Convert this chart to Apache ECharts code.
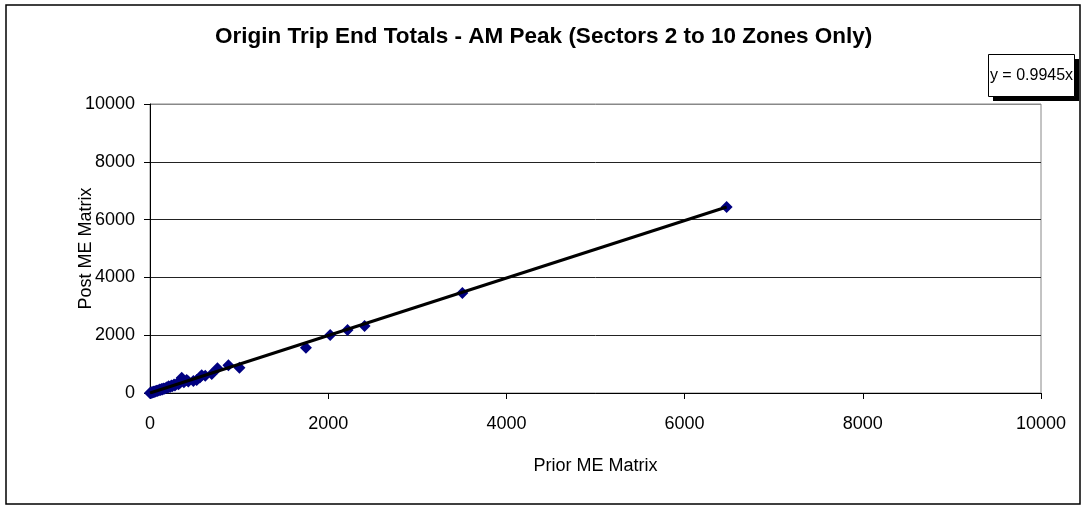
<!DOCTYPE html>
<html>
<head>
<meta charset="utf-8">
<script src="https://cdn.jsdelivr.net/npm/echarts@6/dist/echarts.min.js"></script>
<style>
html,body{margin:0;padding:0;background:#fff;}
#chart{width:1087px;height:509px;}
</style>
</head>
<body>
<div id="chart"></div>
<script>
// Data
const priorME = [0,5,10,15,20,25,30,40,45,50,60,70,80,90,100,110,120,130,140,150,160,175,190,200,210,225,240,250,270,280,300,320,340,356,380,412,430,487,524,560,580,620,693,757,880,1004,1750,2022,2217,2408,3506,6472];
const postME  = [0,3,12,10,25,20,28,35,50,42,55,75,70,85,95,120,105,140,125,160,150,165,200,185,230,210,260,235,290,260,320,300,360,529,370,450,400,415,450,540,612,600,657,854,958,876,1570,2007,2180,2318,3460,6436];
const slope = 0.9945;
const axisTicks = [0,2000,4000,6000,8000,10000];
const titleText = 'Origin Trip End Totals - AM Peak (Sectors 2 to 10 Zones Only)';
const xName = 'Prior ME Matrix';
const yName = 'Post ME Matrix';
const eqText = 'y = 0.9945x';

const pts = priorME.map((x,i)=>[x, postME[i]]);
const xMax = Math.max(...priorME);
const trend = [[0,0],[xMax, slope*xMax]];

const font = 'Liberation Sans, Arial, sans-serif';
const chart = echarts.init(document.getElementById('chart'), null, {renderer:'canvas'});
chart.setOption({
  animation:false,
  backgroundColor:'#fff',
  title:{
    text:titleText, left:210, top:20,
    textStyle:{fontFamily:font, fontSize:22.5, fontWeight:'bold', color:'#000'}
  },
  grid:{left:150, right:46, top:104, bottom:116, show:true, borderColor:'#888', borderWidth:1},
  xAxis:{
    type:'value', min:axisTicks[0], max:axisTicks[axisTicks.length-1], interval:2000,
    name:xName, nameLocation:'middle', nameGap:64,
    nameTextStyle:{fontFamily:font, fontSize:18, color:'#000'},
    axisLine:{show:true, lineStyle:{color:'#000', width:1}},
    axisTick:{show:true, inside:false, length:6, lineStyle:{color:'#000'}},
    axisLabel:{fontFamily:font, fontSize:18, color:'#000', margin:22, formatter:v=>String(v)},
    splitLine:{show:false}
  },
  yAxis:{
    type:'value', min:axisTicks[0], max:axisTicks[axisTicks.length-1], interval:2000,
    name:yName, nameLocation:'middle', nameGap:55, nameMoveOverlap:false,
    nameTextStyle:{fontFamily:font, fontSize:18, color:'#000'},
    axisLine:{show:true, lineStyle:{color:'#000', width:1}},
    axisTick:{show:true, inside:false, length:6, lineStyle:{color:'#000'}},
    axisLabel:{fontFamily:font, fontSize:18, color:'#000', margin:15, formatter:v=>String(v)},
    splitLine:{show:true, lineStyle:{color:['#222','#222','#222','#222','#222','#888'], width:1}}
  },
  series:[
    {type:'scatter', data:pts, symbol:'diamond', symbolSize:12,
     itemStyle:{color:'#000080', opacity:1}, z:2},
    {type:'line', data:trend, symbol:'none', lineStyle:{color:'#000', width:3}, z:3}
  ],
  graphic:[
    {type:'rect', shape:{x:6, y:5, width:1074, height:499}, style:{fill:null, stroke:'#000', lineWidth:1.5}, silent:true},
    {type:'rect', shape:{x:993, y:59, width:86, height:42}, style:{fill:'#000'}, z:10},
    {type:'rect', shape:{x:988.5, y:54.5, width:86, height:42}, style:{fill:'#fff', stroke:'#000', lineWidth:1}, z:11},
    {type:'text', x:1031.5, y:76, z:12, style:{text:eqText, fontFamily:font, fontSize:16, fill:'#000', align:'center', verticalAlign:'middle'}}
  ]
});
</script>
</body>
</html>
